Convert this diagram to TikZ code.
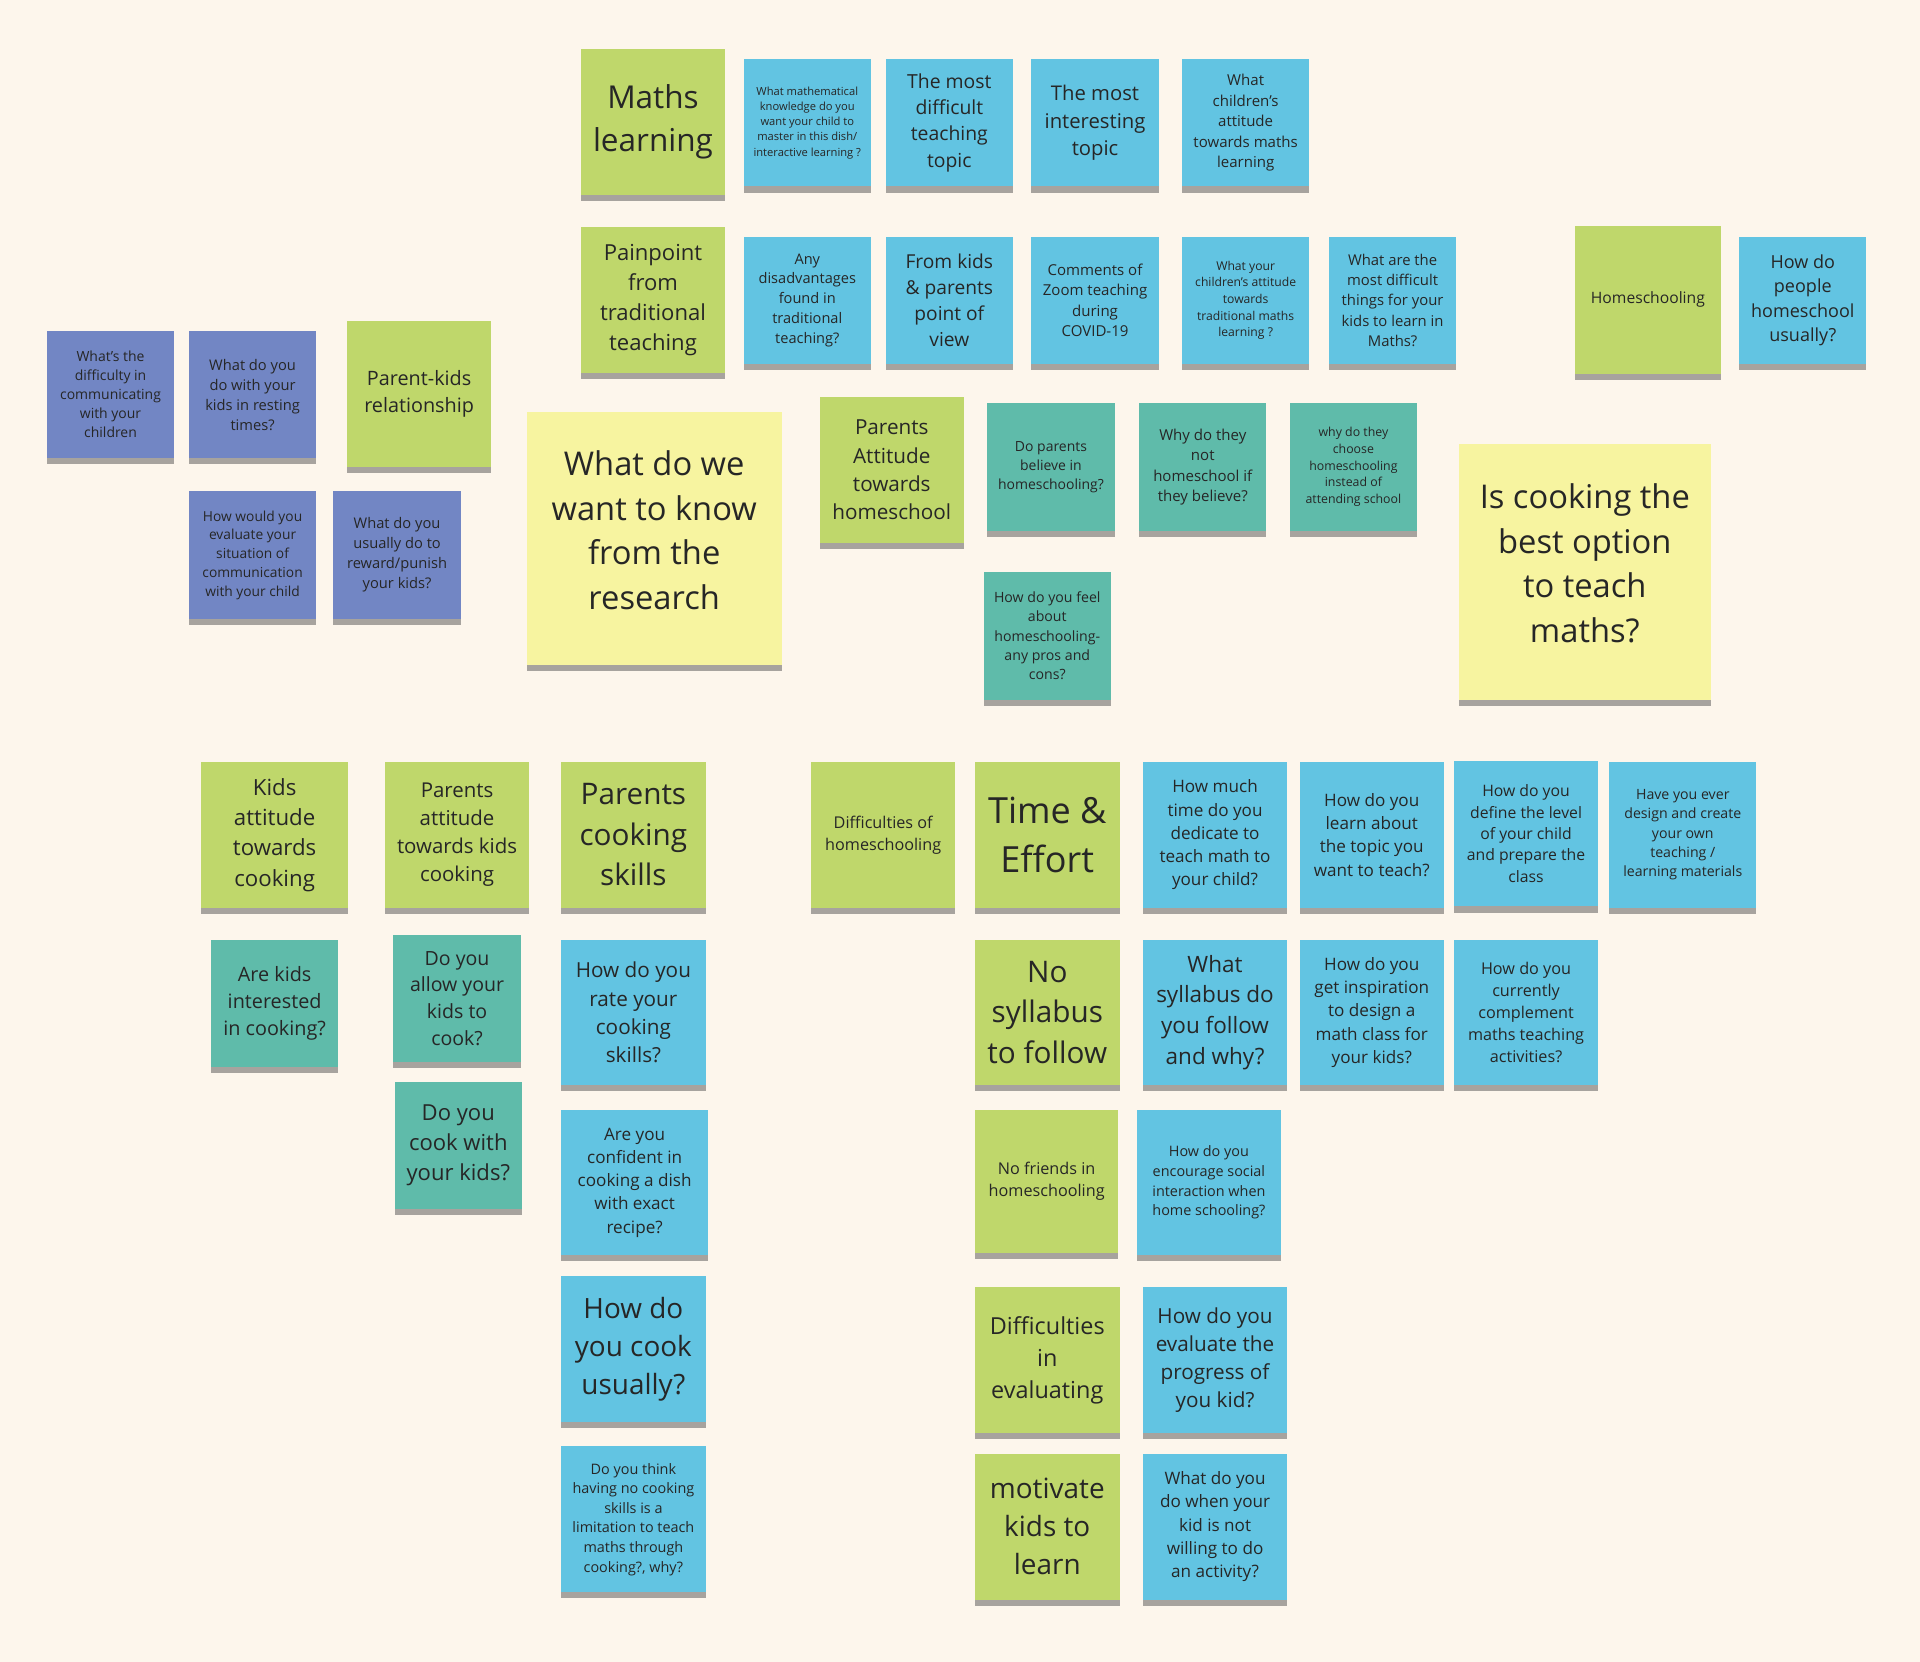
\documentclass[tikz,border=0pt]{standalone}
\usepackage{fontspec}
\setmainfont{Open Sans}
\usetikzlibrary{shadows}
\definecolor{board}{RGB}{253,246,236}
\definecolor{stgreen}{RGB}{191,215,107}
\definecolor{stblue}{RGB}{98,196,226}
\definecolor{stteal}{RGB}{95,187,170}
\definecolor{stpurple}{RGB}{114,134,196}
\definecolor{styellow}{RGB}{247,244,160}
% line spacing given in board pixels
\newcommand{\setls}[1]{\pgfmathsetlengthmacro\lsk{#1*0.7113pt}\pgfmathsetlengthmacro\fsz{#1*0.523pt}\fontsize{\fsz}{\lsk}\selectfont}

\begin{document}
\begin{tikzpicture}[x=0.025cm, y=-0.025cm,
note/.style 2 args={anchor=north west, inner sep=0pt, align=center, text=black!85, minimum width=#1*0.025cm, minimum height=#2*0.025cm, drop shadow={shadow xshift=0pt, shadow yshift=-3.5pt, opacity=.45, fill=black!75}},
sq/.style={note={118}{119}}, sm/.style={note={104}{104}},
gn/.style={fill=stgreen}, bl/.style={fill=stblue}, tl/.style={fill=stteal}, pu/.style={fill=stpurple}, ye/.style={fill=styellow, text depth=10pt},
ls/.style={font=\setls{#1}}]
\useasboundingbox (0,0) rectangle (1568,1357);
\fill[board] (0,0) rectangle (1568,1357);
% maths learning
\node[gn, sq, ls=35] (mth) at (474,40) {Maths\\learning};
\node[bl, sm, ls=12.4] (q1) at (607,48) {What mathematical\\knowledge do you\\want your child to\\master in this dish/\\interactive learning ?};
\node[bl, sm, ls=21.5] (q2) at (723,48) {The most\\difficult\\teaching\\topic};
\node[bl, sm, ls=22.5] (q3) at (842,48) {The most\\interesting\\topic};
\node[bl, sm, ls=16.7] (q4) at (965,48) {What\\children's\\attitude\\towards maths\\learning};
% painpoint
\node[gn, sq, ls=24.5] (pain) at (474,185) {Painpoint\\from\\traditional\\teaching};
\node[bl, sm, ls=16.2] (q5) at (607,193) {Any\\disadvantages\\found in\\traditional\\teaching?};
\node[bl, sm, ls=21.3] (q6) at (723,193) {From kids\\\& parents\\point of\\view};
\node[bl, sm, ls=16.7] (q7) at (842,193) {Comments of\\Zoom teaching\\during\\COVID-19};
\node[bl, sm, ls=13.5] (q8) at (965,193) {What your\\children's attitude\\towards\\traditional maths\\learning ?};
\node[bl, sm, ls=16.5] (q9) at (1085,193) {What are the\\most difficult\\things for your\\kids to learn in\\Maths?};
% homeschooling
\node[gn, note={119}{121}, ls=17.4] (home) at (1286,184) {Homeschooling};
\node[bl, sm, ls=20] (q10) at (1420,193) {How do\\people\\homeschool\\usually?};
% parent-kids relationship
\node[pu, sm, ls=15.5] (p1) at (38,270) {What's the\\difficulty in\\communicating\\with your\\children};
\node[pu, sm, ls=16.3] (p2) at (154,270) {What do you\\do with your\\kids in resting\\times?};
\node[gn, sq, ls=22] (rel) at (283,262) {Parent-kids\\relationship};
\node[pu, sm, ls=15.3] (p3) at (154,401) {How would you\\evaluate your\\situation of\\communication\\with your child};
\node[pu, sm, ls=16.3] (p4) at (272,401) {What do you\\usually do to\\reward/punish\\your kids?};
\node[ye, note={208}{207}, ls=36.3] (res) at (430,336) {What do we\\want to know\\from the\\research};
% attitude towards homeschool
\node[gn, sq, ls=23] (att) at (669,324) {Parents\\Attitude\\towards\\homeschool};
\node[tl, sm, ls=15.5] (h1) at (806,329) {Do parents\\believe in\\homeschooling?};
\node[tl, sm, ls=16.7] (h2) at (930,329) {Why do they\\not\\homeschool if\\they believe?};
\node[tl, sm, ls=13.7] (h3) at (1053,329) {why do they\\choose\\homeschooling\\instead of\\attending school};
\node[tl, sm, ls=15.7] (h4) at (803,467) {How do you feel\\about\\homeschooling-\\any pros and\\cons?};
\node[ye, note={206}{209}, ls=36.3] (cook) at (1191,362) {Is cooking the\\best option\\to teach\\maths?};
% cooking
\node[gn, note={120}{119}, ls=24.7] (kids) at (164,622) {Kids\\attitude\\towards\\cooking};
\node[gn, sq, ls=22.7] (patt) at (314,622) {Parents\\attitude\\towards kids\\cooking};
\node[gn, sq, ls=33] (skill) at (458,622) {Parents\\cooking\\skills};
\node[tl, sm, ls=22] (k1) at (172,767) {Are kids\\interested\\in cooking?};
\node[tl, sm, ls=21.7] (k2) at (321,763) {Do you\\allow your\\kids to\\cook?};
\node[tl, sm, ls=24.5] (k3) at (322,883) {Do you\\cook with\\your kids?};
\node[bl, sq, ls=23] (s1) at (458,767) {How do you\\rate your\\cooking\\skills?};
\node[bl, note={120}{119}, ls=19] (s2) at (458,906) {Are you\\confident in\\cooking a dish\\with exact\\recipe?};
\node[bl, sq, ls=31] (s3) at (458,1042) {How do\\you cook\\usually?};
\node[bl, sq, ls=16] (s4) at (458,1181) {Do you think\\having no cooking\\skills is a\\limitation to teach\\maths through\\cooking?, why?};
% difficulties of homeschooling
\node[gn, sq, ls=18] (diff) at (662,622) {Difficulties of\\homeschooling};
\node[gn, sq, ls=40] (time) at (796,622) {Time \&\\Effort};
\node[bl, sq, ls=19] (t1) at (933,622) {How much\\time do you\\dedicate to\\teach math to\\your child?};
\node[bl, sq, ls=19] (t2) at (1061,622) {How do you\\learn about\\the topic you\\want to teach?};
\node[bl, sq, ls=17.5] (t3) at (1187,621) {How do you\\define the level\\of your child\\and prepare the\\class};
\node[bl, note={120}{119}, ls=15.7] (t4) at (1314,622) {Have you ever\\design and create\\your own\\teaching /\\learning materials};
\node[gn, sq, ls=33] (syl) at (796,767) {No\\syllabus\\to follow};
\node[bl, sq, ls=25] (y1) at (933,767) {What\\syllabus do\\you follow\\and why?};
\node[bl, sq, ls=19] (y2) at (1061,767) {How do you\\get inspiration\\to design a\\math class for\\your kids?};
\node[bl, sq, ls=18] (y3) at (1187,767) {How do you\\currently\\complement\\maths teaching\\activities?};
\node[gn, note={117}{117}, ls=18] (frnd) at (796,906) {No friends in\\homeschooling};
\node[bl, sq, ls=16] (f1) at (928,906) {How do you\\encourage social\\interaction when\\home schooling?};
\node[gn, sq, ls=26] (eval) at (796,1051) {Difficulties\\in\\evaluating};
\node[bl, sq, ls=23] (e1) at (933,1051) {How do you\\evaluate the\\progress of\\you kid?};
\node[gn, sq, ls=31] (mot) at (796,1187) {motivate\\kids to\\learn};
\node[bl, sq, ls=19] (m1) at (933,1187) {What do you\\do when your\\kid is not\\willing to do\\an activity?};
\end{tikzpicture}
\end{document}
